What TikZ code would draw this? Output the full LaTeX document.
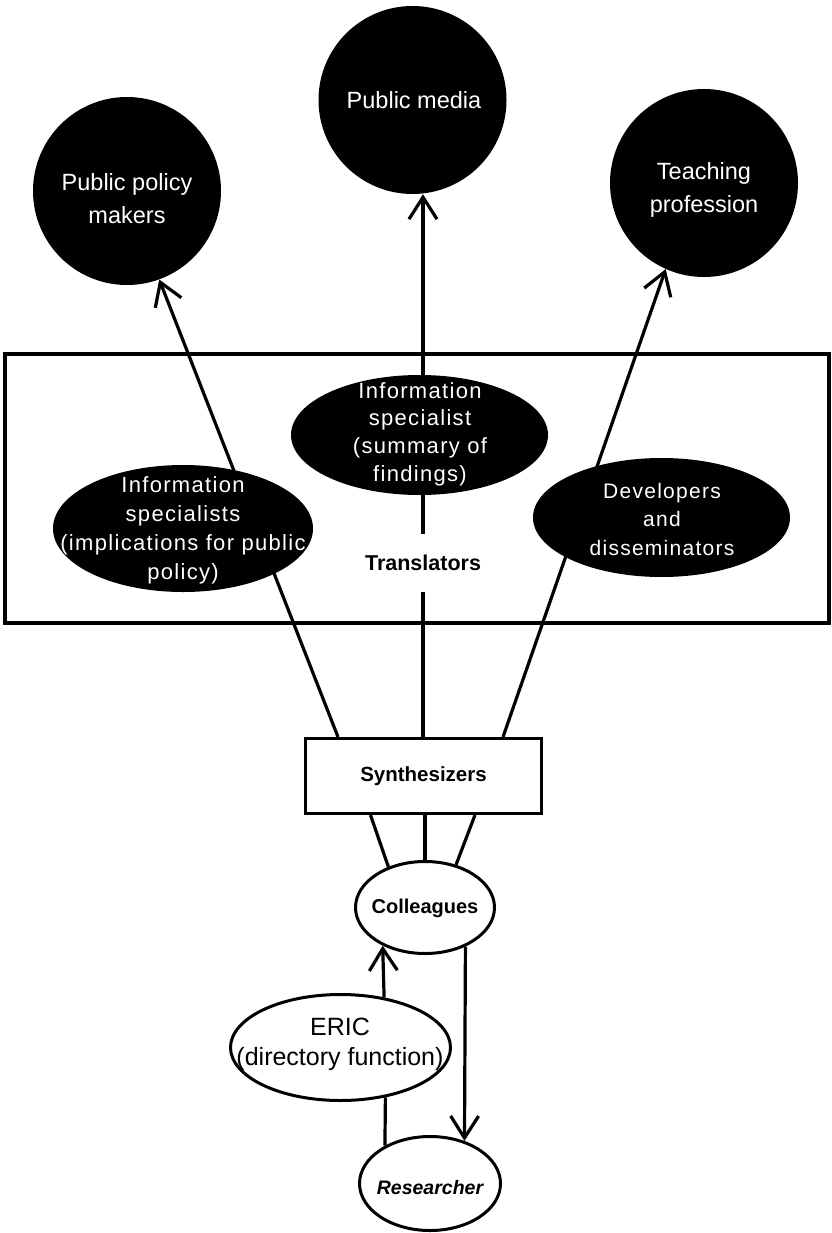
\documentclass[tikz,border=0pt]{standalone}
\usepackage{fontspec}
\setmainfont{Liberation Sans}
\newfontfamily\ellfont[LetterSpace=6.0]{Liberation Sans}
\usetikzlibrary{arrows.meta,calc,shapes.geometric}
\begin{document}
\begin{tikzpicture}[x=1pt,y=-1pt,
  ln/.style={line width=3.2pt},
  arr/.style={ln,-{Straight Barb[length=22pt,width=28pt]}},
  blackcirc/.style={circle,fill=black,minimum size=188pt,inner sep=0pt},
  blackell/.style={ellipse,fill=black,inner sep=0pt},
  whiteell/.style={ellipse,draw,line width=3pt,inner sep=0pt},
  circtext/.style={text=white,align=center,inner sep=0pt,font=\fontsize{23.5}{33}\selectfont},
  elltext/.style={text=white,align=center,inner sep=0pt,font=\ellfont\fontsize{22}{29}\selectfont},
]
\useasboundingbox (0,0) rectangle (831,1233);

% frame of translators
\draw[line width=3.5pt] (5,354) rectangle (829,623);

% shapes
\node[blackcirc] (policy) at (127,191) {};
\node[blackcirc] (media) at (412.5,100) {};
\node[blackcirc] (teach) at (704,183) {};
\node[blackell,minimum width=260pt,minimum height=127pt] (left) at (183,528.5) {};
\node[blackell,minimum width=257pt,minimum height=120pt] (mid) at (419.5,435) {};
\node[blackell,minimum width=257pt,minimum height=119pt] (right) at (661.5,517.5) {};
\node[font=\bfseries\fontsize{21.5}{25}\selectfont,inner xsep=2pt,inner ysep=21pt] (trans) at (423,563) {Translators};
\node[draw,line width=3pt,minimum width=236pt,minimum height=75pt,inner sep=0pt,
      font=\bfseries\fontsize{20.5}{24}\selectfont] (synth) at (423.5,776) {Synthesizers};
\node[whiteell,minimum width=139pt,minimum height=92pt] (coll) at (425,907.5) {};
\node[whiteell,minimum width=220pt,minimum height=106pt] (eric) at (340.5,1047.5) {};
\node[whiteell,minimum width=141pt,minimum height=94pt] (res) at (430,1183.5) {};

% connectors: synthesizers up to audiences
\draw[arr] ($(synth.north)+(-85.5,0)$) -- (policy.-70);
\draw[ln] (trans.south) -- (trans.south |- synth.north);
\draw[ln] (trans.north) -- (trans.north |- mid.south);
\draw[arr] (trans.north |- mid.north) -- (trans.north |- media.south);
\draw[arr] ($(synth.north)+(79.5,0)$) -- (teach.-114);

% colleagues to synthesizers
\draw[ln] ($(synth.south)+(-53,0)$) -- (coll.132);
\draw[ln] (coll.north |- synth.south) -- (coll.north);
\draw[ln] ($(synth.south)+(51.5,0)$) -- (coll.54);

% ERIC, colleagues, researcher
\draw[arr] (eric.49) -- (coll.222);
\draw[ln] (eric.312) -- (res.140);
\draw[arr] (coll.316) -- (res.51);

% texts on top
\node[circtext] (policyT) at (127,199) {Public policy\\makers};
\node[circtext] (mediaT) at (414,100) {Public media};
\node[circtext] (teachT) at (704,190) {Teaching\\profession};
\node[elltext] (leftT) at (183,530) {Information\\specialists\\(implications for public\\policy)};
\node[elltext,font=\ellfont\fontsize{22}{27.7}\selectfont] (midT) at (420,434) {Information\\specialist\\(summary of\\findings)};
\node[elltext,font=\ellfont\fontsize{21}{28.5}\selectfont] (rightT) at (662,519) {Developers\\and\\disseminators};
\node[font=\bfseries\fontsize{20}{24}\selectfont,inner sep=0pt] (collT) at (425,908) {Colleagues};
\node[align=center,inner sep=0pt,font=\fontsize{25}{30}\selectfont] (ericT) at (340,1044) {ERIC\\(directory function)};
\node[font=\bfseries\itshape\fontsize{19.5}{24}\selectfont,inner sep=0pt] (resT) at (430,1188) {Researcher};
\end{tikzpicture}
\end{document}
